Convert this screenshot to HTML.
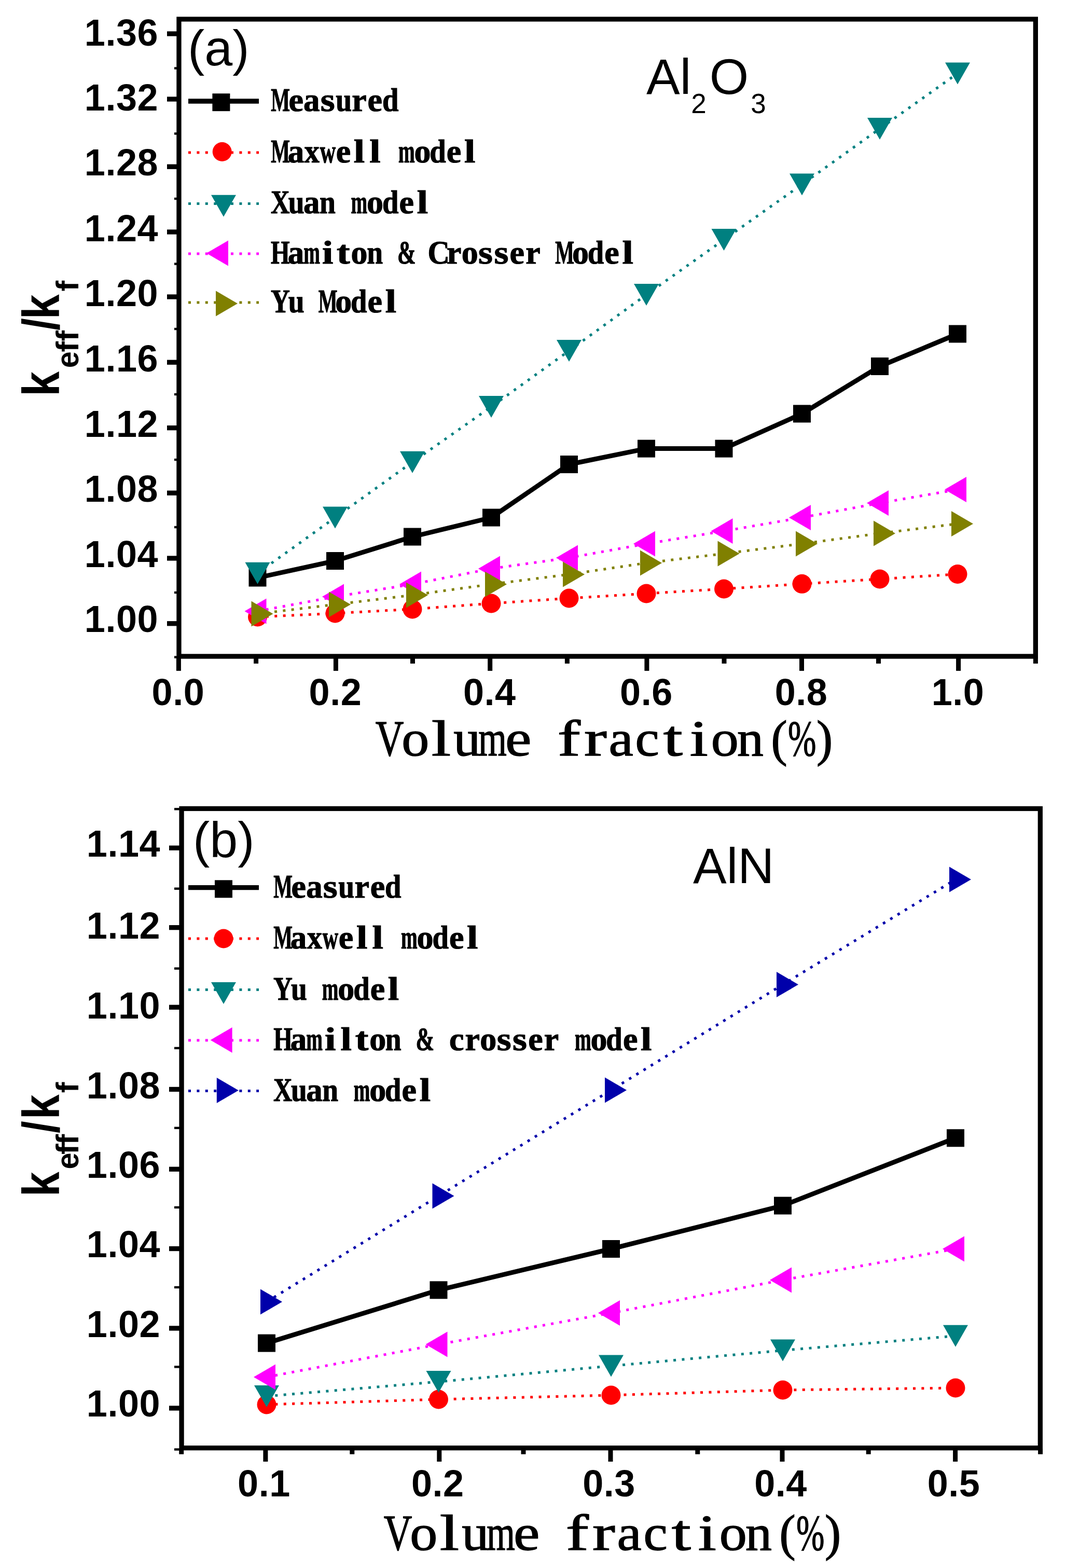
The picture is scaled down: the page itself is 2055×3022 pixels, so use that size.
<!DOCTYPE html>
<html><head><meta charset="utf-8"><title>Thermal conductivity ratio charts</title><style>html,body{margin:0;padding:0;background:#fff;}svg{display:block;}</style></head><body>
<svg width="2055" height="3022" viewBox="0 0 2055 3022">
<rect width="2055" height="3022" fill="#fff"/>
<rect x="344.95" y="36.95" width="1651.40" height="1228.00" fill="none" stroke="#000" stroke-width="9.3"/>
<rect x="322" y="1197.1" width="20.30000000000001" height="9.3" fill="#000"/>
<rect x="322" y="1071.3" width="20.30000000000001" height="9.3" fill="#000"/>
<rect x="322" y="945.5" width="20.30000000000001" height="9.3" fill="#000"/>
<rect x="322" y="820.0" width="20.30000000000001" height="9.3" fill="#000"/>
<rect x="322" y="693.6" width="20.30000000000001" height="9.3" fill="#000"/>
<rect x="322" y="567.4" width="20.30000000000001" height="9.3" fill="#000"/>
<rect x="322" y="442.4" width="20.30000000000001" height="9.3" fill="#000"/>
<rect x="322" y="316.6" width="20.30000000000001" height="9.3" fill="#000"/>
<rect x="322" y="186.4" width="20.30000000000001" height="9.3" fill="#000"/>
<rect x="322" y="60.4" width="20.30000000000001" height="9.3" fill="#000"/>
<rect x="336" y="129.3" width="6.300000000000011" height="4.4" fill="#000"/>
<rect x="336" y="255.3" width="6.300000000000011" height="4.4" fill="#000"/>
<rect x="336" y="380.8" width="6.300000000000011" height="4.4" fill="#000"/>
<rect x="336" y="506.4" width="6.300000000000011" height="4.4" fill="#000"/>
<rect x="336" y="631.8" width="6.300000000000011" height="4.4" fill="#000"/>
<rect x="336" y="757.8" width="6.300000000000011" height="4.4" fill="#000"/>
<rect x="336" y="883.8" width="6.300000000000011" height="4.4" fill="#000"/>
<rect x="336" y="1013.8" width="6.300000000000011" height="4.4" fill="#000"/>
<rect x="336" y="1139.8" width="6.300000000000011" height="4.4" fill="#000"/>
<rect x="336" y="1264.3" width="6.300000000000011" height="4.4" fill="#000"/>
<rect x="339.9" y="1266.6" width="9" height="26.3" fill="#000"/>
<rect x="489.1" y="1266.6" width="9" height="12.3" fill="#000"/>
<rect x="642.9" y="1266.6" width="9" height="26.3" fill="#000"/>
<rect x="791.0" y="1266.6" width="9" height="12.3" fill="#000"/>
<rect x="940.2" y="1266.6" width="9" height="26.3" fill="#000"/>
<rect x="1088.9" y="1266.6" width="9" height="12.3" fill="#000"/>
<rect x="1242.4" y="1266.6" width="9" height="26.3" fill="#000"/>
<rect x="1391.5" y="1266.6" width="9" height="12.3" fill="#000"/>
<rect x="1541.0" y="1266.6" width="9" height="26.3" fill="#000"/>
<rect x="1689.0" y="1266.6" width="9" height="12.3" fill="#000"/>
<rect x="1843.1" y="1266.6" width="9" height="26.3" fill="#000"/>
<rect x="1991.9" y="1266.6" width="9" height="12.3" fill="#000"/>
<text x="305" y="1218.0" text-anchor="end" font-family="&quot;Liberation Sans&quot;, Arial, sans-serif" font-weight="bold" font-size="72" letter-spacing="0.5">1.00</text>
<text x="305" y="1093.0" text-anchor="end" font-family="&quot;Liberation Sans&quot;, Arial, sans-serif" font-weight="bold" font-size="72" letter-spacing="0.5">1.04</text>
<text x="305" y="967.2" text-anchor="end" font-family="&quot;Liberation Sans&quot;, Arial, sans-serif" font-weight="bold" font-size="72" letter-spacing="0.5">1.08</text>
<text x="305" y="841.6" text-anchor="end" font-family="&quot;Liberation Sans&quot;, Arial, sans-serif" font-weight="bold" font-size="72" letter-spacing="0.5">1.12</text>
<text x="305" y="716.1" text-anchor="end" font-family="&quot;Liberation Sans&quot;, Arial, sans-serif" font-weight="bold" font-size="72" letter-spacing="0.5">1.16</text>
<text x="305" y="590.1" text-anchor="end" font-family="&quot;Liberation Sans&quot;, Arial, sans-serif" font-weight="bold" font-size="72" letter-spacing="0.5">1.20</text>
<text x="305" y="464.6" text-anchor="end" font-family="&quot;Liberation Sans&quot;, Arial, sans-serif" font-weight="bold" font-size="72" letter-spacing="0.5">1.24</text>
<text x="305" y="338.2" text-anchor="end" font-family="&quot;Liberation Sans&quot;, Arial, sans-serif" font-weight="bold" font-size="72" letter-spacing="0.5">1.28</text>
<text x="305" y="213.2" text-anchor="end" font-family="&quot;Liberation Sans&quot;, Arial, sans-serif" font-weight="bold" font-size="72" letter-spacing="0.5">1.32</text>
<text x="305" y="87.7" text-anchor="end" font-family="&quot;Liberation Sans&quot;, Arial, sans-serif" font-weight="bold" font-size="72" letter-spacing="0.5">1.36</text>
<text x="343.4" y="1358.5" text-anchor="middle" font-family="&quot;Liberation Sans&quot;, Arial, sans-serif" font-weight="bold" font-size="72" letter-spacing="0.5">0.0</text>
<text x="646.4" y="1358.5" text-anchor="middle" font-family="&quot;Liberation Sans&quot;, Arial, sans-serif" font-weight="bold" font-size="72" letter-spacing="0.5">0.2</text>
<text x="943.7" y="1358.5" text-anchor="middle" font-family="&quot;Liberation Sans&quot;, Arial, sans-serif" font-weight="bold" font-size="72" letter-spacing="0.5">0.4</text>
<text x="1245.9" y="1358.5" text-anchor="middle" font-family="&quot;Liberation Sans&quot;, Arial, sans-serif" font-weight="bold" font-size="72" letter-spacing="0.5">0.6</text>
<text x="1544.5" y="1358.5" text-anchor="middle" font-family="&quot;Liberation Sans&quot;, Arial, sans-serif" font-weight="bold" font-size="72" letter-spacing="0.5">0.8</text>
<text x="1846.6" y="1358.5" text-anchor="middle" font-family="&quot;Liberation Sans&quot;, Arial, sans-serif" font-weight="bold" font-size="72" letter-spacing="0.5">1.0</text>
<polyline points="496.5,1113.5 646.0,1081.0 795.0,1034.5 947.0,997.5 1097.0,895.0 1246.0,864.6 1395.5,864.6 1546.0,797.4 1696.0,706.0 1846.0,643.5" fill="none" stroke="#000" stroke-width="9" stroke-linejoin="round"/>
<rect x="479.5" y="1096.5" width="34" height="34" fill="#000"/>
<rect x="629.0" y="1064.0" width="34" height="34" fill="#000"/>
<rect x="778.0" y="1017.5" width="34" height="34" fill="#000"/>
<rect x="930.0" y="980.5" width="34" height="34" fill="#000"/>
<rect x="1080.0" y="878.0" width="34" height="34" fill="#000"/>
<rect x="1229.0" y="847.6" width="34" height="34" fill="#000"/>
<rect x="1378.5" y="847.6" width="34" height="34" fill="#000"/>
<rect x="1529.0" y="780.4" width="34" height="34" fill="#000"/>
<rect x="1679.0" y="689.0" width="34" height="34" fill="#000"/>
<rect x="1829.0" y="626.5" width="34" height="34" fill="#000"/>
<polyline points="496.5,1189.0 646.0,1182.0 795.0,1174.0 947.0,1163.0 1097.0,1153.0 1246.0,1144.0 1395.5,1135.0 1546.0,1125.3 1696.0,1116.0 1846.0,1106.5" fill="none" stroke="#ff0000" stroke-width="5" stroke-dasharray="5 11.4"/>
<circle cx="496.5" cy="1189.0" r="18.5" fill="#ff0000"/>
<circle cx="646.0" cy="1182.0" r="18.5" fill="#ff0000"/>
<circle cx="795.0" cy="1174.0" r="18.5" fill="#ff0000"/>
<circle cx="947.0" cy="1163.0" r="18.5" fill="#ff0000"/>
<circle cx="1097.0" cy="1153.0" r="18.5" fill="#ff0000"/>
<circle cx="1246.0" cy="1144.0" r="18.5" fill="#ff0000"/>
<circle cx="1395.5" cy="1135.0" r="18.5" fill="#ff0000"/>
<circle cx="1546.0" cy="1125.3" r="18.5" fill="#ff0000"/>
<circle cx="1696.0" cy="1116.0" r="18.5" fill="#ff0000"/>
<circle cx="1846.0" cy="1106.5" r="18.5" fill="#ff0000"/>
<polyline points="496.5,1104.7 646.0,997.5 795.0,890.7 947.0,784.0 1097.0,676.0 1246.0,568.0 1395.5,462.0 1546.0,355.4 1696.0,248.0 1846.0,141.4" fill="none" stroke="#008080" stroke-width="5" stroke-dasharray="5 11.4"/>
<polygon points="472.5,1083.7 520.5,1083.7 496.5,1125.7" fill="#008080"/>
<polygon points="622.0,976.5 670.0,976.5 646.0,1018.5" fill="#008080"/>
<polygon points="771.0,869.7 819.0,869.7 795.0,911.7" fill="#008080"/>
<polygon points="923.0,763.0 971.0,763.0 947.0,805.0" fill="#008080"/>
<polygon points="1073.0,655.0 1121.0,655.0 1097.0,697.0" fill="#008080"/>
<polygon points="1222.0,547.0 1270.0,547.0 1246.0,589.0" fill="#008080"/>
<polygon points="1371.5,441.0 1419.5,441.0 1395.5,483.0" fill="#008080"/>
<polygon points="1522.0,334.4 1570.0,334.4 1546.0,376.4" fill="#008080"/>
<polygon points="1672.0,227.0 1720.0,227.0 1696.0,269.0" fill="#008080"/>
<polygon points="1822.0,120.4 1870.0,120.4 1846.0,162.4" fill="#008080"/>
<polyline points="496.5,1178.0 646.0,1150.0 795.0,1126.0 947.0,1096.0 1097.0,1075.0 1246.0,1048.0 1395.5,1023.6 1546.0,997.5 1696.0,969.5 1846.0,943.5" fill="none" stroke="#ff00ff" stroke-width="5" stroke-dasharray="5 11.4"/>
<polygon points="471.5,1178.0 513.5,1153.5 513.5,1202.5" fill="#ff00ff"/>
<polygon points="621.0,1150.0 663.0,1125.5 663.0,1174.5" fill="#ff00ff"/>
<polygon points="770.0,1126.0 812.0,1101.5 812.0,1150.5" fill="#ff00ff"/>
<polygon points="922.0,1096.0 964.0,1071.5 964.0,1120.5" fill="#ff00ff"/>
<polygon points="1072.0,1075.0 1114.0,1050.5 1114.0,1099.5" fill="#ff00ff"/>
<polygon points="1221.0,1048.0 1263.0,1023.5 1263.0,1072.5" fill="#ff00ff"/>
<polygon points="1370.5,1023.6 1412.5,999.1 1412.5,1048.1" fill="#ff00ff"/>
<polygon points="1521.0,997.5 1563.0,973.0 1563.0,1022.0" fill="#ff00ff"/>
<polygon points="1671.0,969.5 1713.0,945.0 1713.0,994.0" fill="#ff00ff"/>
<polygon points="1821.0,943.5 1863.0,919.0 1863.0,968.0" fill="#ff00ff"/>
<polyline points="496.5,1183.0 646.0,1165.0 795.0,1147.0 947.0,1126.0 1097.0,1107.0 1246.0,1085.0 1395.5,1067.0 1546.0,1048.0 1696.0,1028.0 1846.0,1009.5" fill="none" stroke="#808000" stroke-width="5" stroke-dasharray="5 11.4"/>
<polygon points="526.5,1183.0 484.5,1158.5 484.5,1207.5" fill="#808000"/>
<polygon points="676.0,1165.0 634.0,1140.5 634.0,1189.5" fill="#808000"/>
<polygon points="825.0,1147.0 783.0,1122.5 783.0,1171.5" fill="#808000"/>
<polygon points="977.0,1126.0 935.0,1101.5 935.0,1150.5" fill="#808000"/>
<polygon points="1127.0,1107.0 1085.0,1082.5 1085.0,1131.5" fill="#808000"/>
<polygon points="1276.0,1085.0 1234.0,1060.5 1234.0,1109.5" fill="#808000"/>
<polygon points="1425.5,1067.0 1383.5,1042.5 1383.5,1091.5" fill="#808000"/>
<polygon points="1576.0,1048.0 1534.0,1023.5 1534.0,1072.5" fill="#808000"/>
<polygon points="1726.0,1028.0 1684.0,1003.5 1684.0,1052.5" fill="#808000"/>
<polygon points="1876.0,1009.5 1834.0,985.0 1834.0,1034.0" fill="#808000"/>
<line x1="363" y1="195.0" x2="499" y2="195.0" stroke="#000" stroke-width="9.3"/>
<rect x="409.4" y="180.2" width="34" height="34" fill="#000"/>
<text transform="translate(540.4,213.8) scale(0.609,1.000)" x="-29.8" y="0" font-family="&quot;Liberation Serif&quot;, &quot;Times New Roman&quot;, serif" font-weight="bold" font-size="64" fill="#000" stroke="#000" stroke-width="1.2">M</text>
<text transform="translate(570.9,213.8)" x="-14.5" y="0" font-family="&quot;Liberation Serif&quot;, &quot;Times New Roman&quot;, serif" font-weight="bold" font-size="64" fill="#000" stroke="#000" stroke-width="1.2">e</text>
<text transform="translate(601.3,213.8) scale(0.983,1.000)" x="-16.5" y="0" font-family="&quot;Liberation Serif&quot;, &quot;Times New Roman&quot;, serif" font-weight="bold" font-size="64" fill="#000" stroke="#000" stroke-width="1.2">a</text>
<text transform="translate(631.8,213.8) scale(1.119,1.000)" x="-12.6" y="0" font-family="&quot;Liberation Serif&quot;, &quot;Times New Roman&quot;, serif" font-weight="bold" font-size="64" fill="#000" stroke="#000" stroke-width="1.2">s</text>
<text transform="translate(662.2,213.8) scale(0.866,1.000)" x="-17.4" y="0" font-family="&quot;Liberation Serif&quot;, &quot;Times New Roman&quot;, serif" font-weight="bold" font-size="64" fill="#000" stroke="#000" stroke-width="1.2">u</text>
<text transform="translate(692.6,213.8)" x="-14.4" y="0" font-family="&quot;Liberation Serif&quot;, &quot;Times New Roman&quot;, serif" font-weight="bold" font-size="64" fill="#000" stroke="#000" stroke-width="1.2">r</text>
<text transform="translate(723.1,213.8)" x="-14.5" y="0" font-family="&quot;Liberation Serif&quot;, &quot;Times New Roman&quot;, serif" font-weight="bold" font-size="64" fill="#000" stroke="#000" stroke-width="1.2">e</text>
<text transform="translate(753.5,213.8) scale(0.884,1.000)" x="-18.8" y="0" font-family="&quot;Liberation Serif&quot;, &quot;Times New Roman&quot;, serif" font-weight="bold" font-size="64" fill="#000" stroke="#000" stroke-width="1.2">d</text>
<line x1="363" y1="294.0" x2="499" y2="294.0" stroke="#ff0000" stroke-width="5" stroke-dasharray="5 11.4"/>
<circle cx="428.2" cy="292.5" r="18.5" fill="#ff0000"/>
<text transform="translate(540.4,312.8) scale(0.609,1.000)" x="-29.8" y="0" font-family="&quot;Liberation Serif&quot;, &quot;Times New Roman&quot;, serif" font-weight="bold" font-size="64" fill="#000" stroke="#000" stroke-width="1.2">M</text>
<text transform="translate(570.9,312.8) scale(0.983,1.000)" x="-16.5" y="0" font-family="&quot;Liberation Serif&quot;, &quot;Times New Roman&quot;, serif" font-weight="bold" font-size="64" fill="#000" stroke="#000" stroke-width="1.2">a</text>
<text transform="translate(601.3,312.8) scale(0.907,1.000)" x="-16.0" y="0" font-family="&quot;Liberation Serif&quot;, &quot;Times New Roman&quot;, serif" font-weight="bold" font-size="64" fill="#000" stroke="#000" stroke-width="1.2">x</text>
<text transform="translate(631.8,312.8) scale(0.657,1.000)" x="-23.0" y="0" font-family="&quot;Liberation Serif&quot;, &quot;Times New Roman&quot;, serif" font-weight="bold" font-size="64" fill="#000" stroke="#000" stroke-width="1.2">w</text>
<text transform="translate(662.2,312.8)" x="-14.5" y="0" font-family="&quot;Liberation Serif&quot;, &quot;Times New Roman&quot;, serif" font-weight="bold" font-size="64" fill="#000" stroke="#000" stroke-width="1.2">e</text>
<text transform="translate(692.6,312.8) scale(1.200,1.000)" x="-9.0" y="0" font-family="&quot;Liberation Serif&quot;, &quot;Times New Roman&quot;, serif" font-weight="bold" font-size="64" fill="#000" stroke="#000" stroke-width="1.2">l</text>
<text transform="translate(723.1,312.8) scale(1.200,1.000)" x="-9.0" y="0" font-family="&quot;Liberation Serif&quot;, &quot;Times New Roman&quot;, serif" font-weight="bold" font-size="64" fill="#000" stroke="#000" stroke-width="1.2">l</text>
<text transform="translate(784.0,312.8) scale(0.594,1.000)" x="-27.0" y="0" font-family="&quot;Liberation Serif&quot;, &quot;Times New Roman&quot;, serif" font-weight="bold" font-size="64" fill="#000" stroke="#000" stroke-width="1.2">m</text>
<text transform="translate(814.5,312.8)" x="-16.0" y="0" font-family="&quot;Liberation Serif&quot;, &quot;Times New Roman&quot;, serif" font-weight="bold" font-size="64" fill="#000" stroke="#000" stroke-width="1.2">o</text>
<text transform="translate(844.9,312.8) scale(0.884,1.000)" x="-18.8" y="0" font-family="&quot;Liberation Serif&quot;, &quot;Times New Roman&quot;, serif" font-weight="bold" font-size="64" fill="#000" stroke="#000" stroke-width="1.2">d</text>
<text transform="translate(875.3,312.8)" x="-14.5" y="0" font-family="&quot;Liberation Serif&quot;, &quot;Times New Roman&quot;, serif" font-weight="bold" font-size="64" fill="#000" stroke="#000" stroke-width="1.2">e</text>
<text transform="translate(905.8,312.8) scale(1.200,1.000)" x="-9.0" y="0" font-family="&quot;Liberation Serif&quot;, &quot;Times New Roman&quot;, serif" font-weight="bold" font-size="64" fill="#000" stroke="#000" stroke-width="1.2">l</text>
<line x1="363" y1="392.5" x2="499" y2="392.5" stroke="#008080" stroke-width="5" stroke-dasharray="5 11.4"/>
<polygon points="407.0,375.8 455.0,375.8 431.0,417.8" fill="#008080"/>
<text transform="translate(540.4,411.3) scale(0.791,1.000)" x="-23.3" y="0" font-family="&quot;Liberation Serif&quot;, &quot;Times New Roman&quot;, serif" font-weight="bold" font-size="64" fill="#000" stroke="#000" stroke-width="1.2">X</text>
<text transform="translate(570.9,411.3) scale(0.866,1.000)" x="-17.4" y="0" font-family="&quot;Liberation Serif&quot;, &quot;Times New Roman&quot;, serif" font-weight="bold" font-size="64" fill="#000" stroke="#000" stroke-width="1.2">u</text>
<text transform="translate(601.3,411.3) scale(0.983,1.000)" x="-16.5" y="0" font-family="&quot;Liberation Serif&quot;, &quot;Times New Roman&quot;, serif" font-weight="bold" font-size="64" fill="#000" stroke="#000" stroke-width="1.2">a</text>
<text transform="translate(631.8,411.3) scale(0.866,1.000)" x="-18.2" y="0" font-family="&quot;Liberation Serif&quot;, &quot;Times New Roman&quot;, serif" font-weight="bold" font-size="64" fill="#000" stroke="#000" stroke-width="1.2">n</text>
<text transform="translate(692.6,411.3) scale(0.594,1.000)" x="-27.0" y="0" font-family="&quot;Liberation Serif&quot;, &quot;Times New Roman&quot;, serif" font-weight="bold" font-size="64" fill="#000" stroke="#000" stroke-width="1.2">m</text>
<text transform="translate(723.1,411.3)" x="-16.0" y="0" font-family="&quot;Liberation Serif&quot;, &quot;Times New Roman&quot;, serif" font-weight="bold" font-size="64" fill="#000" stroke="#000" stroke-width="1.2">o</text>
<text transform="translate(753.5,411.3) scale(0.884,1.000)" x="-18.8" y="0" font-family="&quot;Liberation Serif&quot;, &quot;Times New Roman&quot;, serif" font-weight="bold" font-size="64" fill="#000" stroke="#000" stroke-width="1.2">d</text>
<text transform="translate(784.0,411.3)" x="-14.5" y="0" font-family="&quot;Liberation Serif&quot;, &quot;Times New Roman&quot;, serif" font-weight="bold" font-size="64" fill="#000" stroke="#000" stroke-width="1.2">e</text>
<text transform="translate(814.5,411.3) scale(1.200,1.000)" x="-9.0" y="0" font-family="&quot;Liberation Serif&quot;, &quot;Times New Roman&quot;, serif" font-weight="bold" font-size="64" fill="#000" stroke="#000" stroke-width="1.2">l</text>
<line x1="363" y1="489.0" x2="499" y2="489.0" stroke="#ff00ff" stroke-width="5" stroke-dasharray="5 11.4"/>
<polygon points="398.0,488.0 440.0,463.5 440.0,512.5" fill="#ff00ff"/>
<text transform="translate(540.4,507.8) scale(0.735,1.000)" x="-24.9" y="0" font-family="&quot;Liberation Serif&quot;, &quot;Times New Roman&quot;, serif" font-weight="bold" font-size="64" fill="#000" stroke="#000" stroke-width="1.2">H</text>
<text transform="translate(570.9,507.8) scale(0.983,1.000)" x="-16.5" y="0" font-family="&quot;Liberation Serif&quot;, &quot;Times New Roman&quot;, serif" font-weight="bold" font-size="64" fill="#000" stroke="#000" stroke-width="1.2">a</text>
<text transform="translate(601.3,507.8) scale(0.594,1.000)" x="-27.0" y="0" font-family="&quot;Liberation Serif&quot;, &quot;Times New Roman&quot;, serif" font-weight="bold" font-size="64" fill="#000" stroke="#000" stroke-width="1.2">m</text>
<text transform="translate(631.8,507.8) scale(1.200,1.000)" x="-9.1" y="0" font-family="&quot;Liberation Serif&quot;, &quot;Times New Roman&quot;, serif" font-weight="bold" font-size="64" fill="#000" stroke="#000" stroke-width="1.2">i</text>
<text transform="translate(662.2,507.8) scale(1.198,1.000)" x="-11.0" y="0" font-family="&quot;Liberation Serif&quot;, &quot;Times New Roman&quot;, serif" font-weight="bold" font-size="64" fill="#000" stroke="#000" stroke-width="1.2">t</text>
<text transform="translate(692.6,507.8)" x="-16.0" y="0" font-family="&quot;Liberation Serif&quot;, &quot;Times New Roman&quot;, serif" font-weight="bold" font-size="64" fill="#000" stroke="#000" stroke-width="1.2">o</text>
<text transform="translate(723.1,507.8) scale(0.866,1.000)" x="-18.2" y="0" font-family="&quot;Liberation Serif&quot;, &quot;Times New Roman&quot;, serif" font-weight="bold" font-size="64" fill="#000" stroke="#000" stroke-width="1.2">n</text>
<text transform="translate(784.0,507.8) scale(0.667,1.000)" x="-26.9" y="0" font-family="&quot;Liberation Serif&quot;, &quot;Times New Roman&quot;, serif" font-weight="bold" font-size="64" fill="#000" stroke="#000" stroke-width="1.2">&amp;</text>
<text transform="translate(844.9,507.8) scale(0.916,1.000)" x="-22.2" y="0" font-family="&quot;Liberation Serif&quot;, &quot;Times New Roman&quot;, serif" font-weight="bold" font-size="64" fill="#000" stroke="#000" stroke-width="1.2">C</text>
<text transform="translate(875.3,507.8)" x="-14.4" y="0" font-family="&quot;Liberation Serif&quot;, &quot;Times New Roman&quot;, serif" font-weight="bold" font-size="64" fill="#000" stroke="#000" stroke-width="1.2">r</text>
<text transform="translate(905.8,507.8)" x="-16.0" y="0" font-family="&quot;Liberation Serif&quot;, &quot;Times New Roman&quot;, serif" font-weight="bold" font-size="64" fill="#000" stroke="#000" stroke-width="1.2">o</text>
<text transform="translate(936.2,507.8) scale(1.119,1.000)" x="-12.6" y="0" font-family="&quot;Liberation Serif&quot;, &quot;Times New Roman&quot;, serif" font-weight="bold" font-size="64" fill="#000" stroke="#000" stroke-width="1.2">s</text>
<text transform="translate(966.7,507.8) scale(1.119,1.000)" x="-12.6" y="0" font-family="&quot;Liberation Serif&quot;, &quot;Times New Roman&quot;, serif" font-weight="bold" font-size="64" fill="#000" stroke="#000" stroke-width="1.2">s</text>
<text transform="translate(997.1,507.8)" x="-14.5" y="0" font-family="&quot;Liberation Serif&quot;, &quot;Times New Roman&quot;, serif" font-weight="bold" font-size="64" fill="#000" stroke="#000" stroke-width="1.2">e</text>
<text transform="translate(1027.6,507.8)" x="-14.4" y="0" font-family="&quot;Liberation Serif&quot;, &quot;Times New Roman&quot;, serif" font-weight="bold" font-size="64" fill="#000" stroke="#000" stroke-width="1.2">r</text>
<text transform="translate(1088.5,507.8) scale(0.609,1.000)" x="-29.8" y="0" font-family="&quot;Liberation Serif&quot;, &quot;Times New Roman&quot;, serif" font-weight="bold" font-size="64" fill="#000" stroke="#000" stroke-width="1.2">M</text>
<text transform="translate(1118.9,507.8)" x="-16.0" y="0" font-family="&quot;Liberation Serif&quot;, &quot;Times New Roman&quot;, serif" font-weight="bold" font-size="64" fill="#000" stroke="#000" stroke-width="1.2">o</text>
<text transform="translate(1149.4,507.8) scale(0.884,1.000)" x="-18.8" y="0" font-family="&quot;Liberation Serif&quot;, &quot;Times New Roman&quot;, serif" font-weight="bold" font-size="64" fill="#000" stroke="#000" stroke-width="1.2">d</text>
<text transform="translate(1179.8,507.8)" x="-14.5" y="0" font-family="&quot;Liberation Serif&quot;, &quot;Times New Roman&quot;, serif" font-weight="bold" font-size="64" fill="#000" stroke="#000" stroke-width="1.2">e</text>
<text transform="translate(1210.3,507.8) scale(1.200,1.000)" x="-9.0" y="0" font-family="&quot;Liberation Serif&quot;, &quot;Times New Roman&quot;, serif" font-weight="bold" font-size="64" fill="#000" stroke="#000" stroke-width="1.2">l</text>
<line x1="363" y1="583.0" x2="499" y2="583.0" stroke="#808000" stroke-width="5" stroke-dasharray="5 11.4"/>
<polygon points="458.0,585.0 416.0,560.5 416.0,609.5" fill="#808000"/>
<text transform="translate(540.4,601.8) scale(0.798,1.000)" x="-23.1" y="0" font-family="&quot;Liberation Serif&quot;, &quot;Times New Roman&quot;, serif" font-weight="bold" font-size="64" fill="#000" stroke="#000" stroke-width="1.2">Y</text>
<text transform="translate(570.9,601.8) scale(0.866,1.000)" x="-17.4" y="0" font-family="&quot;Liberation Serif&quot;, &quot;Times New Roman&quot;, serif" font-weight="bold" font-size="64" fill="#000" stroke="#000" stroke-width="1.2">u</text>
<text transform="translate(631.8,601.8) scale(0.609,1.000)" x="-29.8" y="0" font-family="&quot;Liberation Serif&quot;, &quot;Times New Roman&quot;, serif" font-weight="bold" font-size="64" fill="#000" stroke="#000" stroke-width="1.2">M</text>
<text transform="translate(662.2,601.8)" x="-16.0" y="0" font-family="&quot;Liberation Serif&quot;, &quot;Times New Roman&quot;, serif" font-weight="bold" font-size="64" fill="#000" stroke="#000" stroke-width="1.2">o</text>
<text transform="translate(692.6,601.8) scale(0.884,1.000)" x="-18.8" y="0" font-family="&quot;Liberation Serif&quot;, &quot;Times New Roman&quot;, serif" font-weight="bold" font-size="64" fill="#000" stroke="#000" stroke-width="1.2">d</text>
<text transform="translate(723.1,601.8)" x="-14.5" y="0" font-family="&quot;Liberation Serif&quot;, &quot;Times New Roman&quot;, serif" font-weight="bold" font-size="64" fill="#000" stroke="#000" stroke-width="1.2">e</text>
<text transform="translate(753.5,601.8) scale(1.200,1.000)" x="-9.0" y="0" font-family="&quot;Liberation Serif&quot;, &quot;Times New Roman&quot;, serif" font-weight="bold" font-size="64" fill="#000" stroke="#000" stroke-width="1.2">l</text>
<rect x="350.05" y="1558.45" width="1655.30" height="1232.20" fill="none" stroke="#000" stroke-width="9.3"/>
<rect x="326" y="2709.3" width="21.399999999999977" height="9.3" fill="#000"/>
<rect x="336" y="2632.2" width="11.399999999999977" height="4.4" fill="#000"/>
<rect x="326" y="2555.3" width="21.399999999999977" height="9.3" fill="#000"/>
<rect x="336" y="2478.8" width="11.399999999999977" height="4.4" fill="#000"/>
<rect x="326" y="2401.9" width="21.399999999999977" height="9.3" fill="#000"/>
<rect x="336" y="2324.8" width="11.399999999999977" height="4.4" fill="#000"/>
<rect x="326" y="2248.7" width="21.399999999999977" height="9.3" fill="#000"/>
<rect x="336" y="2171.7" width="11.399999999999977" height="4.4" fill="#000"/>
<rect x="326" y="2094.8" width="21.399999999999977" height="9.3" fill="#000"/>
<rect x="336" y="2017.8" width="11.399999999999977" height="4.4" fill="#000"/>
<rect x="326" y="1936.6" width="21.399999999999977" height="9.3" fill="#000"/>
<rect x="336" y="1864.4" width="11.399999999999977" height="4.4" fill="#000"/>
<rect x="326" y="1783.0" width="21.399999999999977" height="9.3" fill="#000"/>
<rect x="336" y="1710.5" width="11.399999999999977" height="4.4" fill="#000"/>
<rect x="326" y="1629.6" width="21.399999999999977" height="9.3" fill="#000"/>
<rect x="336" y="1557.1" width="11.399999999999977" height="4.4" fill="#000"/>
<rect x="336" y="2791.3" width="11.399999999999977" height="4.4" fill="#000"/>
<rect x="345.2" y="2792.3" width="9" height="10.4" fill="#000"/>
<rect x="507.4" y="2792.3" width="9" height="24.7" fill="#000"/>
<rect x="674.3" y="2792.3" width="9" height="10.4" fill="#000"/>
<rect x="842.3" y="2792.3" width="9" height="24.7" fill="#000"/>
<rect x="1004.5" y="2792.3" width="9" height="10.4" fill="#000"/>
<rect x="1172.5" y="2792.3" width="9" height="24.7" fill="#000"/>
<rect x="1340.3" y="2792.3" width="9" height="10.4" fill="#000"/>
<rect x="1503.5" y="2792.3" width="9" height="24.7" fill="#000"/>
<rect x="1669.7" y="2792.3" width="9" height="10.4" fill="#000"/>
<rect x="1837.1" y="2792.3" width="9" height="24.7" fill="#000"/>
<rect x="2001.1" y="2792.3" width="9" height="10.4" fill="#000"/>
<text x="309" y="2730.1" text-anchor="end" font-family="&quot;Liberation Sans&quot;, Arial, sans-serif" font-weight="bold" font-size="72" letter-spacing="0.5">1.00</text>
<text x="309" y="2576.8" text-anchor="end" font-family="&quot;Liberation Sans&quot;, Arial, sans-serif" font-weight="bold" font-size="72" letter-spacing="0.5">1.02</text>
<text x="309" y="2423.4" text-anchor="end" font-family="&quot;Liberation Sans&quot;, Arial, sans-serif" font-weight="bold" font-size="72" letter-spacing="0.5">1.04</text>
<text x="309" y="2269.5" text-anchor="end" font-family="&quot;Liberation Sans&quot;, Arial, sans-serif" font-weight="bold" font-size="72" letter-spacing="0.5">1.06</text>
<text x="309" y="2116.5" text-anchor="end" font-family="&quot;Liberation Sans&quot;, Arial, sans-serif" font-weight="bold" font-size="72" letter-spacing="0.5">1.08</text>
<text x="309" y="1962.6" text-anchor="end" font-family="&quot;Liberation Sans&quot;, Arial, sans-serif" font-weight="bold" font-size="72" letter-spacing="0.5">1.10</text>
<text x="309" y="1809.0" text-anchor="end" font-family="&quot;Liberation Sans&quot;, Arial, sans-serif" font-weight="bold" font-size="72" letter-spacing="0.5">1.12</text>
<text x="309" y="1650.8" text-anchor="end" font-family="&quot;Liberation Sans&quot;, Arial, sans-serif" font-weight="bold" font-size="72" letter-spacing="0.5">1.14</text>
<text x="508.9" y="2884" text-anchor="middle" font-family="&quot;Liberation Sans&quot;, Arial, sans-serif" font-weight="bold" font-size="72" letter-spacing="0.5">0.1</text>
<text x="843.8" y="2884" text-anchor="middle" font-family="&quot;Liberation Sans&quot;, Arial, sans-serif" font-weight="bold" font-size="72" letter-spacing="0.5">0.2</text>
<text x="1174.0" y="2884" text-anchor="middle" font-family="&quot;Liberation Sans&quot;, Arial, sans-serif" font-weight="bold" font-size="72" letter-spacing="0.5">0.3</text>
<text x="1505.0" y="2884" text-anchor="middle" font-family="&quot;Liberation Sans&quot;, Arial, sans-serif" font-weight="bold" font-size="72" letter-spacing="0.5">0.4</text>
<text x="1838.6" y="2884" text-anchor="middle" font-family="&quot;Liberation Sans&quot;, Arial, sans-serif" font-weight="bold" font-size="72" letter-spacing="0.5">0.5</text>
<polyline points="514.0,2588.6 845.5,2486.3 1178.0,2407.0 1509.0,2323.6 1842.0,2193.3" fill="none" stroke="#000" stroke-width="9" stroke-linejoin="round"/>
<rect x="497.0" y="2571.6" width="34" height="34" fill="#000"/>
<rect x="828.5" y="2469.3" width="34" height="34" fill="#000"/>
<rect x="1161.0" y="2390.0" width="34" height="34" fill="#000"/>
<rect x="1492.0" y="2306.6" width="34" height="34" fill="#000"/>
<rect x="1825.0" y="2176.3" width="34" height="34" fill="#000"/>
<polyline points="514.0,2707.0 845.5,2697.0 1178.0,2689.0 1509.0,2679.0 1842.0,2675.0" fill="none" stroke="#ff0000" stroke-width="5" stroke-dasharray="5 11.4"/>
<circle cx="514.0" cy="2707.0" r="18.5" fill="#ff0000"/>
<circle cx="845.5" cy="2697.0" r="18.5" fill="#ff0000"/>
<circle cx="1178.0" cy="2689.0" r="18.5" fill="#ff0000"/>
<circle cx="1509.0" cy="2679.0" r="18.5" fill="#ff0000"/>
<circle cx="1842.0" cy="2675.0" r="18.5" fill="#ff0000"/>
<polyline points="514.0,2691.0 845.5,2663.0 1178.0,2632.6 1509.0,2602.6 1842.0,2574.7" fill="none" stroke="#008080" stroke-width="5" stroke-dasharray="5 11.4"/>
<polygon points="490.0,2670.0 538.0,2670.0 514.0,2712.0" fill="#008080"/>
<polygon points="821.5,2642.0 869.5,2642.0 845.5,2684.0" fill="#008080"/>
<polygon points="1154.0,2611.6 1202.0,2611.6 1178.0,2653.6" fill="#008080"/>
<polygon points="1485.0,2581.6 1533.0,2581.6 1509.0,2623.6" fill="#008080"/>
<polygon points="1818.0,2553.7 1866.0,2553.7 1842.0,2595.7" fill="#008080"/>
<polyline points="514.0,2654.0 845.5,2591.0 1178.0,2530.5 1509.0,2467.0 1842.0,2407.0" fill="none" stroke="#ff00ff" stroke-width="5" stroke-dasharray="5 11.4"/>
<polygon points="489.0,2654.0 531.0,2629.5 531.0,2678.5" fill="#ff00ff"/>
<polygon points="820.5,2591.0 862.5,2566.5 862.5,2615.5" fill="#ff00ff"/>
<polygon points="1153.0,2530.5 1195.0,2506.0 1195.0,2555.0" fill="#ff00ff"/>
<polygon points="1484.0,2467.0 1526.0,2442.5 1526.0,2491.5" fill="#ff00ff"/>
<polygon points="1817.0,2407.0 1859.0,2382.5 1859.0,2431.5" fill="#ff00ff"/>
<polyline points="514.0,2509.0 845.5,2305.0 1178.0,2101.0 1509.0,1897.6 1842.0,1695.0" fill="none" stroke="#0000aa" stroke-width="5" stroke-dasharray="5 11.4"/>
<polygon points="544.0,2509.0 502.0,2484.5 502.0,2533.5" fill="#0000aa"/>
<polygon points="875.5,2305.0 833.5,2280.5 833.5,2329.5" fill="#0000aa"/>
<polygon points="1208.0,2101.0 1166.0,2076.5 1166.0,2125.5" fill="#0000aa"/>
<polygon points="1539.0,1897.6 1497.0,1873.1 1497.0,1922.1" fill="#0000aa"/>
<polygon points="1872.0,1695.0 1830.0,1670.5 1830.0,1719.5" fill="#0000aa"/>
<line x1="363" y1="1710.7" x2="499" y2="1710.7" stroke="#000" stroke-width="9.3"/>
<rect x="414.0" y="1696.3" width="34" height="34" fill="#000"/>
<text transform="translate(545.5,1729.7) scale(0.609,1.000)" x="-29.8" y="0" font-family="&quot;Liberation Serif&quot;, &quot;Times New Roman&quot;, serif" font-weight="bold" font-size="64" fill="#000" stroke="#000" stroke-width="1.2">M</text>
<text transform="translate(576.0,1729.7)" x="-14.5" y="0" font-family="&quot;Liberation Serif&quot;, &quot;Times New Roman&quot;, serif" font-weight="bold" font-size="64" fill="#000" stroke="#000" stroke-width="1.2">e</text>
<text transform="translate(606.4,1729.7) scale(0.983,1.000)" x="-16.5" y="0" font-family="&quot;Liberation Serif&quot;, &quot;Times New Roman&quot;, serif" font-weight="bold" font-size="64" fill="#000" stroke="#000" stroke-width="1.2">a</text>
<text transform="translate(636.9,1729.7) scale(1.119,1.000)" x="-12.6" y="0" font-family="&quot;Liberation Serif&quot;, &quot;Times New Roman&quot;, serif" font-weight="bold" font-size="64" fill="#000" stroke="#000" stroke-width="1.2">s</text>
<text transform="translate(667.3,1729.7) scale(0.866,1.000)" x="-17.4" y="0" font-family="&quot;Liberation Serif&quot;, &quot;Times New Roman&quot;, serif" font-weight="bold" font-size="64" fill="#000" stroke="#000" stroke-width="1.2">u</text>
<text transform="translate(697.8,1729.7)" x="-14.4" y="0" font-family="&quot;Liberation Serif&quot;, &quot;Times New Roman&quot;, serif" font-weight="bold" font-size="64" fill="#000" stroke="#000" stroke-width="1.2">r</text>
<text transform="translate(728.2,1729.7)" x="-14.5" y="0" font-family="&quot;Liberation Serif&quot;, &quot;Times New Roman&quot;, serif" font-weight="bold" font-size="64" fill="#000" stroke="#000" stroke-width="1.2">e</text>
<text transform="translate(758.6,1729.7) scale(0.884,1.000)" x="-18.8" y="0" font-family="&quot;Liberation Serif&quot;, &quot;Times New Roman&quot;, serif" font-weight="bold" font-size="64" fill="#000" stroke="#000" stroke-width="1.2">d</text>
<line x1="363" y1="1809.0" x2="499" y2="1809.0" stroke="#ff0000" stroke-width="5" stroke-dasharray="5 11.4"/>
<circle cx="431.0" cy="1809.0" r="18.5" fill="#ff0000"/>
<text transform="translate(545.5,1828.0) scale(0.609,1.000)" x="-29.8" y="0" font-family="&quot;Liberation Serif&quot;, &quot;Times New Roman&quot;, serif" font-weight="bold" font-size="64" fill="#000" stroke="#000" stroke-width="1.2">M</text>
<text transform="translate(576.0,1828.0) scale(0.983,1.000)" x="-16.5" y="0" font-family="&quot;Liberation Serif&quot;, &quot;Times New Roman&quot;, serif" font-weight="bold" font-size="64" fill="#000" stroke="#000" stroke-width="1.2">a</text>
<text transform="translate(606.4,1828.0) scale(0.907,1.000)" x="-16.0" y="0" font-family="&quot;Liberation Serif&quot;, &quot;Times New Roman&quot;, serif" font-weight="bold" font-size="64" fill="#000" stroke="#000" stroke-width="1.2">x</text>
<text transform="translate(636.9,1828.0) scale(0.657,1.000)" x="-23.0" y="0" font-family="&quot;Liberation Serif&quot;, &quot;Times New Roman&quot;, serif" font-weight="bold" font-size="64" fill="#000" stroke="#000" stroke-width="1.2">w</text>
<text transform="translate(667.3,1828.0)" x="-14.5" y="0" font-family="&quot;Liberation Serif&quot;, &quot;Times New Roman&quot;, serif" font-weight="bold" font-size="64" fill="#000" stroke="#000" stroke-width="1.2">e</text>
<text transform="translate(697.8,1828.0) scale(1.200,1.000)" x="-9.0" y="0" font-family="&quot;Liberation Serif&quot;, &quot;Times New Roman&quot;, serif" font-weight="bold" font-size="64" fill="#000" stroke="#000" stroke-width="1.2">l</text>
<text transform="translate(728.2,1828.0) scale(1.200,1.000)" x="-9.0" y="0" font-family="&quot;Liberation Serif&quot;, &quot;Times New Roman&quot;, serif" font-weight="bold" font-size="64" fill="#000" stroke="#000" stroke-width="1.2">l</text>
<text transform="translate(789.1,1828.0) scale(0.594,1.000)" x="-27.0" y="0" font-family="&quot;Liberation Serif&quot;, &quot;Times New Roman&quot;, serif" font-weight="bold" font-size="64" fill="#000" stroke="#000" stroke-width="1.2">m</text>
<text transform="translate(819.5,1828.0)" x="-16.0" y="0" font-family="&quot;Liberation Serif&quot;, &quot;Times New Roman&quot;, serif" font-weight="bold" font-size="64" fill="#000" stroke="#000" stroke-width="1.2">o</text>
<text transform="translate(850.0,1828.0) scale(0.884,1.000)" x="-18.8" y="0" font-family="&quot;Liberation Serif&quot;, &quot;Times New Roman&quot;, serif" font-weight="bold" font-size="64" fill="#000" stroke="#000" stroke-width="1.2">d</text>
<text transform="translate(880.5,1828.0)" x="-14.5" y="0" font-family="&quot;Liberation Serif&quot;, &quot;Times New Roman&quot;, serif" font-weight="bold" font-size="64" fill="#000" stroke="#000" stroke-width="1.2">e</text>
<text transform="translate(910.9,1828.0) scale(1.200,1.000)" x="-9.0" y="0" font-family="&quot;Liberation Serif&quot;, &quot;Times New Roman&quot;, serif" font-weight="bold" font-size="64" fill="#000" stroke="#000" stroke-width="1.2">l</text>
<line x1="363" y1="1907.5" x2="499" y2="1907.5" stroke="#008080" stroke-width="5" stroke-dasharray="5 11.4"/>
<polygon points="407.0,1893.0 455.0,1893.0 431.0,1935.0" fill="#008080"/>
<text transform="translate(545.5,1926.5) scale(0.798,1.000)" x="-23.1" y="0" font-family="&quot;Liberation Serif&quot;, &quot;Times New Roman&quot;, serif" font-weight="bold" font-size="64" fill="#000" stroke="#000" stroke-width="1.2">Y</text>
<text transform="translate(576.0,1926.5) scale(0.866,1.000)" x="-17.4" y="0" font-family="&quot;Liberation Serif&quot;, &quot;Times New Roman&quot;, serif" font-weight="bold" font-size="64" fill="#000" stroke="#000" stroke-width="1.2">u</text>
<text transform="translate(636.9,1926.5) scale(0.594,1.000)" x="-27.0" y="0" font-family="&quot;Liberation Serif&quot;, &quot;Times New Roman&quot;, serif" font-weight="bold" font-size="64" fill="#000" stroke="#000" stroke-width="1.2">m</text>
<text transform="translate(667.3,1926.5)" x="-16.0" y="0" font-family="&quot;Liberation Serif&quot;, &quot;Times New Roman&quot;, serif" font-weight="bold" font-size="64" fill="#000" stroke="#000" stroke-width="1.2">o</text>
<text transform="translate(697.8,1926.5) scale(0.884,1.000)" x="-18.8" y="0" font-family="&quot;Liberation Serif&quot;, &quot;Times New Roman&quot;, serif" font-weight="bold" font-size="64" fill="#000" stroke="#000" stroke-width="1.2">d</text>
<text transform="translate(728.2,1926.5)" x="-14.5" y="0" font-family="&quot;Liberation Serif&quot;, &quot;Times New Roman&quot;, serif" font-weight="bold" font-size="64" fill="#000" stroke="#000" stroke-width="1.2">e</text>
<text transform="translate(758.6,1926.5) scale(1.200,1.000)" x="-9.0" y="0" font-family="&quot;Liberation Serif&quot;, &quot;Times New Roman&quot;, serif" font-weight="bold" font-size="64" fill="#000" stroke="#000" stroke-width="1.2">l</text>
<line x1="363" y1="2005.0" x2="499" y2="2005.0" stroke="#ff00ff" stroke-width="5" stroke-dasharray="5 11.4"/>
<polygon points="405.6,2004.5 447.6,1980.0 447.6,2029.0" fill="#ff00ff"/>
<text transform="translate(545.5,2024.0) scale(0.735,1.000)" x="-24.9" y="0" font-family="&quot;Liberation Serif&quot;, &quot;Times New Roman&quot;, serif" font-weight="bold" font-size="64" fill="#000" stroke="#000" stroke-width="1.2">H</text>
<text transform="translate(576.0,2024.0) scale(0.983,1.000)" x="-16.5" y="0" font-family="&quot;Liberation Serif&quot;, &quot;Times New Roman&quot;, serif" font-weight="bold" font-size="64" fill="#000" stroke="#000" stroke-width="1.2">a</text>
<text transform="translate(606.4,2024.0) scale(0.594,1.000)" x="-27.0" y="0" font-family="&quot;Liberation Serif&quot;, &quot;Times New Roman&quot;, serif" font-weight="bold" font-size="64" fill="#000" stroke="#000" stroke-width="1.2">m</text>
<text transform="translate(636.9,2024.0) scale(1.200,1.000)" x="-9.1" y="0" font-family="&quot;Liberation Serif&quot;, &quot;Times New Roman&quot;, serif" font-weight="bold" font-size="64" fill="#000" stroke="#000" stroke-width="1.2">i</text>
<text transform="translate(667.3,2024.0) scale(1.200,1.000)" x="-9.0" y="0" font-family="&quot;Liberation Serif&quot;, &quot;Times New Roman&quot;, serif" font-weight="bold" font-size="64" fill="#000" stroke="#000" stroke-width="1.2">l</text>
<text transform="translate(697.8,2024.0) scale(1.198,1.000)" x="-11.0" y="0" font-family="&quot;Liberation Serif&quot;, &quot;Times New Roman&quot;, serif" font-weight="bold" font-size="64" fill="#000" stroke="#000" stroke-width="1.2">t</text>
<text transform="translate(728.2,2024.0)" x="-16.0" y="0" font-family="&quot;Liberation Serif&quot;, &quot;Times New Roman&quot;, serif" font-weight="bold" font-size="64" fill="#000" stroke="#000" stroke-width="1.2">o</text>
<text transform="translate(758.6,2024.0) scale(0.866,1.000)" x="-18.2" y="0" font-family="&quot;Liberation Serif&quot;, &quot;Times New Roman&quot;, serif" font-weight="bold" font-size="64" fill="#000" stroke="#000" stroke-width="1.2">n</text>
<text transform="translate(819.5,2024.0) scale(0.667,1.000)" x="-26.9" y="0" font-family="&quot;Liberation Serif&quot;, &quot;Times New Roman&quot;, serif" font-weight="bold" font-size="64" fill="#000" stroke="#000" stroke-width="1.2">&amp;</text>
<text transform="translate(880.5,2024.0)" x="-14.5" y="0" font-family="&quot;Liberation Serif&quot;, &quot;Times New Roman&quot;, serif" font-weight="bold" font-size="64" fill="#000" stroke="#000" stroke-width="1.2">c</text>
<text transform="translate(910.9,2024.0)" x="-14.4" y="0" font-family="&quot;Liberation Serif&quot;, &quot;Times New Roman&quot;, serif" font-weight="bold" font-size="64" fill="#000" stroke="#000" stroke-width="1.2">r</text>
<text transform="translate(941.3,2024.0)" x="-16.0" y="0" font-family="&quot;Liberation Serif&quot;, &quot;Times New Roman&quot;, serif" font-weight="bold" font-size="64" fill="#000" stroke="#000" stroke-width="1.2">o</text>
<text transform="translate(971.8,2024.0) scale(1.119,1.000)" x="-12.6" y="0" font-family="&quot;Liberation Serif&quot;, &quot;Times New Roman&quot;, serif" font-weight="bold" font-size="64" fill="#000" stroke="#000" stroke-width="1.2">s</text>
<text transform="translate(1002.2,2024.0) scale(1.119,1.000)" x="-12.6" y="0" font-family="&quot;Liberation Serif&quot;, &quot;Times New Roman&quot;, serif" font-weight="bold" font-size="64" fill="#000" stroke="#000" stroke-width="1.2">s</text>
<text transform="translate(1032.7,2024.0)" x="-14.5" y="0" font-family="&quot;Liberation Serif&quot;, &quot;Times New Roman&quot;, serif" font-weight="bold" font-size="64" fill="#000" stroke="#000" stroke-width="1.2">e</text>
<text transform="translate(1063.2,2024.0)" x="-14.4" y="0" font-family="&quot;Liberation Serif&quot;, &quot;Times New Roman&quot;, serif" font-weight="bold" font-size="64" fill="#000" stroke="#000" stroke-width="1.2">r</text>
<text transform="translate(1124.0,2024.0) scale(0.594,1.000)" x="-27.0" y="0" font-family="&quot;Liberation Serif&quot;, &quot;Times New Roman&quot;, serif" font-weight="bold" font-size="64" fill="#000" stroke="#000" stroke-width="1.2">m</text>
<text transform="translate(1154.5,2024.0)" x="-16.0" y="0" font-family="&quot;Liberation Serif&quot;, &quot;Times New Roman&quot;, serif" font-weight="bold" font-size="64" fill="#000" stroke="#000" stroke-width="1.2">o</text>
<text transform="translate(1184.9,2024.0) scale(0.884,1.000)" x="-18.8" y="0" font-family="&quot;Liberation Serif&quot;, &quot;Times New Roman&quot;, serif" font-weight="bold" font-size="64" fill="#000" stroke="#000" stroke-width="1.2">d</text>
<text transform="translate(1215.4,2024.0)" x="-14.5" y="0" font-family="&quot;Liberation Serif&quot;, &quot;Times New Roman&quot;, serif" font-weight="bold" font-size="64" fill="#000" stroke="#000" stroke-width="1.2">e</text>
<text transform="translate(1245.8,2024.0) scale(1.200,1.000)" x="-9.0" y="0" font-family="&quot;Liberation Serif&quot;, &quot;Times New Roman&quot;, serif" font-weight="bold" font-size="64" fill="#000" stroke="#000" stroke-width="1.2">l</text>
<line x1="363" y1="2102.6" x2="499" y2="2102.6" stroke="#0000aa" stroke-width="5" stroke-dasharray="5 11.4"/>
<polygon points="459.8,2101.5 417.8,2077.0 417.8,2126.0" fill="#0000aa"/>
<text transform="translate(545.5,2121.6) scale(0.791,1.000)" x="-23.3" y="0" font-family="&quot;Liberation Serif&quot;, &quot;Times New Roman&quot;, serif" font-weight="bold" font-size="64" fill="#000" stroke="#000" stroke-width="1.2">X</text>
<text transform="translate(576.0,2121.6) scale(0.866,1.000)" x="-17.4" y="0" font-family="&quot;Liberation Serif&quot;, &quot;Times New Roman&quot;, serif" font-weight="bold" font-size="64" fill="#000" stroke="#000" stroke-width="1.2">u</text>
<text transform="translate(606.4,2121.6) scale(0.983,1.000)" x="-16.5" y="0" font-family="&quot;Liberation Serif&quot;, &quot;Times New Roman&quot;, serif" font-weight="bold" font-size="64" fill="#000" stroke="#000" stroke-width="1.2">a</text>
<text transform="translate(636.9,2121.6) scale(0.866,1.000)" x="-18.2" y="0" font-family="&quot;Liberation Serif&quot;, &quot;Times New Roman&quot;, serif" font-weight="bold" font-size="64" fill="#000" stroke="#000" stroke-width="1.2">n</text>
<text transform="translate(697.8,2121.6) scale(0.594,1.000)" x="-27.0" y="0" font-family="&quot;Liberation Serif&quot;, &quot;Times New Roman&quot;, serif" font-weight="bold" font-size="64" fill="#000" stroke="#000" stroke-width="1.2">m</text>
<text transform="translate(728.2,2121.6)" x="-16.0" y="0" font-family="&quot;Liberation Serif&quot;, &quot;Times New Roman&quot;, serif" font-weight="bold" font-size="64" fill="#000" stroke="#000" stroke-width="1.2">o</text>
<text transform="translate(758.6,2121.6) scale(0.884,1.000)" x="-18.8" y="0" font-family="&quot;Liberation Serif&quot;, &quot;Times New Roman&quot;, serif" font-weight="bold" font-size="64" fill="#000" stroke="#000" stroke-width="1.2">d</text>
<text transform="translate(789.1,2121.6)" x="-14.5" y="0" font-family="&quot;Liberation Serif&quot;, &quot;Times New Roman&quot;, serif" font-weight="bold" font-size="64" fill="#000" stroke="#000" stroke-width="1.2">e</text>
<text transform="translate(819.5,2121.6) scale(1.200,1.000)" x="-9.0" y="0" font-family="&quot;Liberation Serif&quot;, &quot;Times New Roman&quot;, serif" font-weight="bold" font-size="64" fill="#000" stroke="#000" stroke-width="1.2">l</text>
<text x="362" y="126" font-family="&quot;Liberation Sans&quot;, Arial, sans-serif" font-size="97">(a)</text>
<text x="372" y="1652" font-family="&quot;Liberation Sans&quot;, Arial, sans-serif" font-size="97">(b)</text>
<text x="1246" y="181" font-family="&quot;Liberation Sans&quot;, Arial, sans-serif" font-size="97">Al<tspan font-size="53" dy="37">2</tspan><tspan dy="-37" dx="6">O</tspan><tspan font-size="53" dy="37" dx="4">3</tspan></text>
<text x="1336" y="1702" font-family="&quot;Liberation Sans&quot;, Arial, sans-serif" font-size="97">AlN</text>
<text transform="translate(751.0,1455.5) scale(0.781,1.000)" x="-35.0" y="0" font-family="&quot;Liberation Serif&quot;, &quot;Times New Roman&quot;, serif" font-size="97" fill="#000" stroke="#000" stroke-width="1.4">V</text>
<text transform="translate(800.7,1455.5) scale(1.094,1.000)" x="-24.2" y="0" font-family="&quot;Liberation Serif&quot;, &quot;Times New Roman&quot;, serif" font-size="97" fill="#000" stroke="#000" stroke-width="1.4">o</text>
<text transform="translate(850.4,1455.5) scale(1.386,1.000)" x="-13.5" y="0" font-family="&quot;Liberation Serif&quot;, &quot;Times New Roman&quot;, serif" font-size="97" fill="#000" stroke="#000" stroke-width="1.4">l</text>
<text transform="translate(900.1,1455.5) scale(1.075,1.000)" x="-24.1" y="0" font-family="&quot;Liberation Serif&quot;, &quot;Times New Roman&quot;, serif" font-size="97" fill="#000" stroke="#000" stroke-width="1.4">u</text>
<text transform="translate(949.8,1455.5) scale(0.723,1.000)" x="-38.0" y="0" font-family="&quot;Liberation Serif&quot;, &quot;Times New Roman&quot;, serif" font-size="97" fill="#000" stroke="#000" stroke-width="1.4">m</text>
<text transform="translate(999.5,1455.5) scale(1.170,1.000)" x="-21.7" y="0" font-family="&quot;Liberation Serif&quot;, &quot;Times New Roman&quot;, serif" font-size="97" fill="#000" stroke="#000" stroke-width="1.4">e</text>
<text transform="translate(1098.9,1455.5) scale(1.365,1.000)" x="-17.7" y="0" font-family="&quot;Liberation Serif&quot;, &quot;Times New Roman&quot;, serif" font-size="97" fill="#000" stroke="#000" stroke-width="1.4">f</text>
<text transform="translate(1148.6,1455.5) scale(1.356,1.000)" x="-16.7" y="0" font-family="&quot;Liberation Serif&quot;, &quot;Times New Roman&quot;, serif" font-size="97" fill="#000" stroke="#000" stroke-width="1.4">r</text>
<text transform="translate(1198.3,1455.5) scale(1.096,1.000)" x="-22.6" y="0" font-family="&quot;Liberation Serif&quot;, &quot;Times New Roman&quot;, serif" font-size="97" fill="#000" stroke="#000" stroke-width="1.4">a</text>
<text transform="translate(1248.0,1455.5) scale(1.072,1.000)" x="-21.9" y="0" font-family="&quot;Liberation Serif&quot;, &quot;Times New Roman&quot;, serif" font-size="97" fill="#000" stroke="#000" stroke-width="1.4">c</text>
<text transform="translate(1297.7,1455.5) scale(1.377,1.000)" x="-13.7" y="0" font-family="&quot;Liberation Serif&quot;, &quot;Times New Roman&quot;, serif" font-size="97" fill="#000" stroke="#000" stroke-width="1.4">t</text>
<text transform="translate(1347.4,1455.5) scale(1.299,1.000)" x="-13.6" y="0" font-family="&quot;Liberation Serif&quot;, &quot;Times New Roman&quot;, serif" font-size="97" fill="#000" stroke="#000" stroke-width="1.4">i</text>
<text transform="translate(1397.1,1455.5) scale(1.094,1.000)" x="-24.2" y="0" font-family="&quot;Liberation Serif&quot;, &quot;Times New Roman&quot;, serif" font-size="97" fill="#000" stroke="#000" stroke-width="1.4">o</text>
<text transform="translate(1446.8,1455.5) scale(1.049,1.000)" x="-24.6" y="0" font-family="&quot;Liberation Serif&quot;, &quot;Times New Roman&quot;, serif" font-size="97" fill="#000" stroke="#000" stroke-width="1.4">n</text>
<text transform="translate(1502.5,1455.5) scale(0.963,1.000)" x="-16.7" y="0" font-family="&quot;Liberation Serif&quot;, &quot;Times New Roman&quot;, serif" font-size="97" fill="#000" stroke="#000" stroke-width="1.4">(</text>
<text transform="translate(1546.2,1455.5) scale(0.674,1.000)" x="-40.4" y="0" font-family="&quot;Liberation Serif&quot;, &quot;Times New Roman&quot;, serif" font-size="97" fill="#000" stroke="#000" stroke-width="1.4">%</text>
<text transform="translate(1588.9,1455.5) scale(0.963,1.000)" x="-15.6" y="0" font-family="&quot;Liberation Serif&quot;, &quot;Times New Roman&quot;, serif" font-size="97" fill="#000" stroke="#000" stroke-width="1.4">)</text>
<text transform="translate(767.0,2986.5) scale(0.781,1.000)" x="-35.0" y="0" font-family="&quot;Liberation Serif&quot;, &quot;Times New Roman&quot;, serif" font-size="97" fill="#000" stroke="#000" stroke-width="1.4">V</text>
<text transform="translate(816.7,2986.5) scale(1.094,1.000)" x="-24.2" y="0" font-family="&quot;Liberation Serif&quot;, &quot;Times New Roman&quot;, serif" font-size="97" fill="#000" stroke="#000" stroke-width="1.4">o</text>
<text transform="translate(866.4,2986.5) scale(1.386,1.000)" x="-13.5" y="0" font-family="&quot;Liberation Serif&quot;, &quot;Times New Roman&quot;, serif" font-size="97" fill="#000" stroke="#000" stroke-width="1.4">l</text>
<text transform="translate(916.1,2986.5) scale(1.075,1.000)" x="-24.1" y="0" font-family="&quot;Liberation Serif&quot;, &quot;Times New Roman&quot;, serif" font-size="97" fill="#000" stroke="#000" stroke-width="1.4">u</text>
<text transform="translate(965.8,2986.5) scale(0.723,1.000)" x="-38.0" y="0" font-family="&quot;Liberation Serif&quot;, &quot;Times New Roman&quot;, serif" font-size="97" fill="#000" stroke="#000" stroke-width="1.4">m</text>
<text transform="translate(1015.5,2986.5) scale(1.170,1.000)" x="-21.7" y="0" font-family="&quot;Liberation Serif&quot;, &quot;Times New Roman&quot;, serif" font-size="97" fill="#000" stroke="#000" stroke-width="1.4">e</text>
<text transform="translate(1114.9,2986.5) scale(1.365,1.000)" x="-17.7" y="0" font-family="&quot;Liberation Serif&quot;, &quot;Times New Roman&quot;, serif" font-size="97" fill="#000" stroke="#000" stroke-width="1.4">f</text>
<text transform="translate(1164.6,2986.5) scale(1.356,1.000)" x="-16.7" y="0" font-family="&quot;Liberation Serif&quot;, &quot;Times New Roman&quot;, serif" font-size="97" fill="#000" stroke="#000" stroke-width="1.4">r</text>
<text transform="translate(1214.3,2986.5) scale(1.096,1.000)" x="-22.6" y="0" font-family="&quot;Liberation Serif&quot;, &quot;Times New Roman&quot;, serif" font-size="97" fill="#000" stroke="#000" stroke-width="1.4">a</text>
<text transform="translate(1264.0,2986.5) scale(1.072,1.000)" x="-21.9" y="0" font-family="&quot;Liberation Serif&quot;, &quot;Times New Roman&quot;, serif" font-size="97" fill="#000" stroke="#000" stroke-width="1.4">c</text>
<text transform="translate(1313.7,2986.5) scale(1.377,1.000)" x="-13.7" y="0" font-family="&quot;Liberation Serif&quot;, &quot;Times New Roman&quot;, serif" font-size="97" fill="#000" stroke="#000" stroke-width="1.4">t</text>
<text transform="translate(1363.4,2986.5) scale(1.299,1.000)" x="-13.6" y="0" font-family="&quot;Liberation Serif&quot;, &quot;Times New Roman&quot;, serif" font-size="97" fill="#000" stroke="#000" stroke-width="1.4">i</text>
<text transform="translate(1413.1,2986.5) scale(1.094,1.000)" x="-24.2" y="0" font-family="&quot;Liberation Serif&quot;, &quot;Times New Roman&quot;, serif" font-size="97" fill="#000" stroke="#000" stroke-width="1.4">o</text>
<text transform="translate(1462.8,2986.5) scale(1.049,1.000)" x="-24.6" y="0" font-family="&quot;Liberation Serif&quot;, &quot;Times New Roman&quot;, serif" font-size="97" fill="#000" stroke="#000" stroke-width="1.4">n</text>
<text transform="translate(1518.5,2986.5) scale(0.963,1.000)" x="-16.7" y="0" font-family="&quot;Liberation Serif&quot;, &quot;Times New Roman&quot;, serif" font-size="97" fill="#000" stroke="#000" stroke-width="1.4">(</text>
<text transform="translate(1562.2,2986.5) scale(0.674,1.000)" x="-40.4" y="0" font-family="&quot;Liberation Serif&quot;, &quot;Times New Roman&quot;, serif" font-size="97" fill="#000" stroke="#000" stroke-width="1.4">%</text>
<text transform="translate(1604.9,2986.5) scale(0.963,1.000)" x="-15.6" y="0" font-family="&quot;Liberation Serif&quot;, &quot;Times New Roman&quot;, serif" font-size="97" fill="#000" stroke="#000" stroke-width="1.4">)</text>
<text transform="translate(113.5,736.8) rotate(-90) scale(0.860,1.000)" x="-31.4" y="0" font-family="&quot;Liberation Sans&quot;, Arial, sans-serif" font-weight="bold" font-size="100" fill="#000">k</text>
<text transform="translate(150.5,693.0) rotate(-90) scale(0.930,1.000)" x="-17.4" y="0" font-family="&quot;Liberation Sans&quot;, Arial, sans-serif" font-weight="bold" font-size="62" fill="#000">e</text>
<text transform="translate(150.5,667.5) rotate(-90)" x="-10.9" y="0" font-family="&quot;Liberation Sans&quot;, Arial, sans-serif" font-weight="bold" font-size="62" fill="#000">f</text>
<text transform="translate(150.5,646.5) rotate(-90)" x="-10.9" y="0" font-family="&quot;Liberation Sans&quot;, Arial, sans-serif" font-weight="bold" font-size="62" fill="#000">f</text>
<text transform="translate(113.5,625.0) rotate(-90) scale(0.850,1.000)" x="-13.9" y="0" font-family="&quot;Liberation Sans&quot;, Arial, sans-serif" font-weight="bold" font-size="100" fill="#000">/</text>
<text transform="translate(113.5,588.2) rotate(-90) scale(0.860,1.000)" x="-31.4" y="0" font-family="&quot;Liberation Sans&quot;, Arial, sans-serif" font-weight="bold" font-size="100" fill="#000">k</text>
<text transform="translate(150.5,550.7) rotate(-90)" x="-10.9" y="0" font-family="&quot;Liberation Sans&quot;, Arial, sans-serif" font-weight="bold" font-size="62" fill="#000">f</text>
<text transform="translate(113.5,2279.2) rotate(-90) scale(0.860,1.000)" x="-31.4" y="0" font-family="&quot;Liberation Sans&quot;, Arial, sans-serif" font-weight="bold" font-size="100" fill="#000">k</text>
<text transform="translate(150.5,2237.3) rotate(-90) scale(0.930,1.000)" x="-17.4" y="0" font-family="&quot;Liberation Sans&quot;, Arial, sans-serif" font-weight="bold" font-size="62" fill="#000">e</text>
<text transform="translate(150.5,2214.0) rotate(-90)" x="-10.9" y="0" font-family="&quot;Liberation Sans&quot;, Arial, sans-serif" font-weight="bold" font-size="62" fill="#000">f</text>
<text transform="translate(150.5,2195.5) rotate(-90)" x="-10.9" y="0" font-family="&quot;Liberation Sans&quot;, Arial, sans-serif" font-weight="bold" font-size="62" fill="#000">f</text>
<text transform="translate(113.5,2172.2) rotate(-90) scale(0.850,1.000)" x="-13.9" y="0" font-family="&quot;Liberation Sans&quot;, Arial, sans-serif" font-weight="bold" font-size="100" fill="#000">/</text>
<text transform="translate(113.5,2130.3) rotate(-90) scale(0.860,1.000)" x="-31.4" y="0" font-family="&quot;Liberation Sans&quot;, Arial, sans-serif" font-weight="bold" font-size="100" fill="#000">k</text>
<text transform="translate(150.5,2095.3) rotate(-90)" x="-10.9" y="0" font-family="&quot;Liberation Sans&quot;, Arial, sans-serif" font-weight="bold" font-size="62" fill="#000">f</text>
</svg>
</body></html>
